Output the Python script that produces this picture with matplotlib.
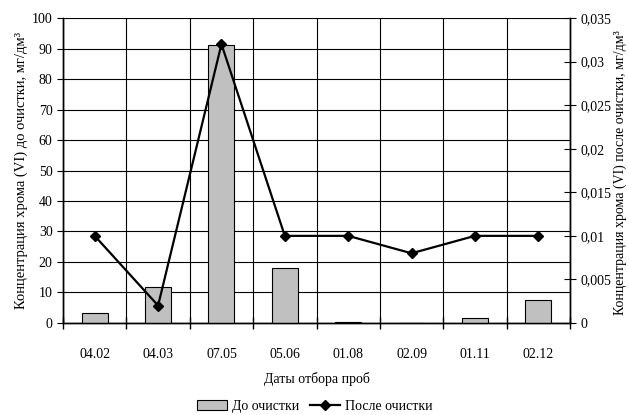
import matplotlib.pyplot as plt
import numpy as np

plt.rcParams['font.family'] = ['Liberation Serif', 'DejaVu Serif']

dates = ["04.02", "04.03", "07.05", "05.06", "01.08", "02.09", "01.11", "02.12"]
before = [3.3, 11.8, 91.3, 18.0, 0.3, 0.0, 1.5, 7.7]
after = [0.01, 0.002, 0.032, 0.01, 0.01, 0.008, 0.01, 0.01]

x = np.arange(len(dates))

fig = plt.figure(figsize=(6.29, 4.15), dpi=100)
ax = fig.add_axes([0.1002, 0.2217, 0.8060, 0.7349])
ax2 = ax.twinx()

ax.bar(x, before, width=0.41, color="#c0c0c0", edgecolor="black", linewidth=0.8,
       label="До очистки", zorder=3)
ax2.plot(x, after, color="black", lw=1.6, marker="D", ms=5.5,
         label="После очистки", zorder=4)

ax.set_xlim(-0.5, len(dates) - 0.5)
ax.set_ylim(0, 100)
ax.set_yticks(np.arange(0, 101, 10))
ax2.set_ylim(0, 0.035)
ax2.set_yticks([0, 0.005, 0.01, 0.015, 0.02, 0.025, 0.03, 0.035])
ax2.set_yticklabels(["0", "0,005", "0,01", "0,015", "0,02", "0,025", "0,03", "0,035"])

# x ticks at category borders, labels at centres
ax.set_xticks(np.arange(-0.5, len(dates), 1.0))
ax.set_xticklabels([])
ax.set_xticks(x, minor=True)
ax.set_xticklabels(dates, minor=True)
ax.tick_params(axis="x", which="major", direction="inout", length=8, width=1)
ax.tick_params(axis="x", which="minor", length=0, pad=18, labelsize=10)
ax.tick_params(axis="y", direction="out", length=4, labelsize=10)
ax2.tick_params(axis="y", direction="inout", length=8, labelsize=10)

ax.grid(True, which="major", color="black", lw=0.8, zorder=0)
ax.set_axisbelow(True)

for a in (ax, ax2):
    a.spines["top"].set_visible(False)
    for s in ("left", "right", "bottom"):
        a.spines[s].set_linewidth(1)

ax.set_ylabel("Концентрация хрома (VI) до очистки, мг/дм³", fontsize=10.5, labelpad=3)
# right-hand label placed by hand so it stays inside the figure
fig.text(0.997, 0.585, "Концентрация хрома (VI) после очистки, мг/дм³", fontsize=10,
         rotation=90, ha="right", va="center")
ax.set_xlabel("Даты отбора проб", fontsize=10, labelpad=8)

h1, l1 = ax.get_legend_handles_labels()
h2, l2 = ax2.get_legend_handles_labels()
fig.legend(h1 + h2, l1 + l2, loc="lower center", bbox_to_anchor=(0.5, -0.025), ncol=2,
           frameon=False, fontsize=10, handlelength=2.2, handletextpad=0.3, columnspacing=0.8)

fig.savefig("out.png", dpi=100)
